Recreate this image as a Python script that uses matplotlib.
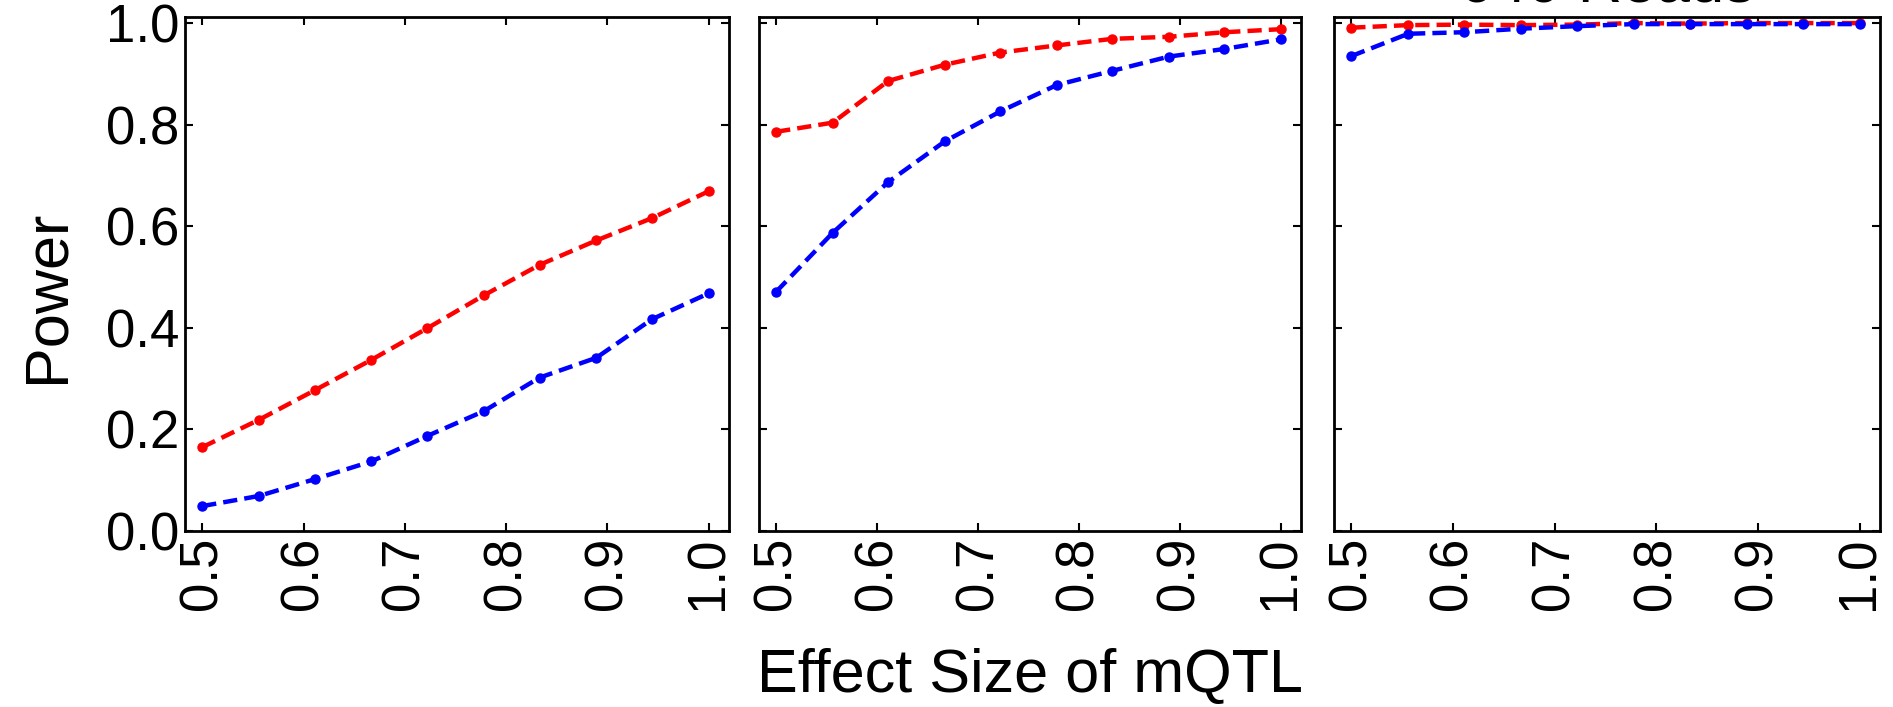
import matplotlib
matplotlib.use("Agg")
import matplotlib.pyplot as plt

plt.rcParams['font.family'] = ['Liberation Sans', 'DejaVu Sans']

effect_size = [0.5, 0.556, 0.611, 0.667, 0.722, 0.778, 0.833, 0.889, 0.944, 1.0]
titles = ["40 Reads", "160 Reads", "640 Reads"]

red_power = [
    [0.165, 0.219, 0.277, 0.337, 0.399, 0.464, 0.524, 0.572, 0.616, 0.669],
    [0.786, 0.804, 0.886, 0.918, 0.942, 0.956, 0.969, 0.973, 0.982, 0.988],
    [0.991, 0.996, 0.997, 0.996, 0.997, 1.0, 0.999, 1.0, 1.0, 1.0],
]
blue_power = [
    [0.049, 0.069, 0.102, 0.137, 0.187, 0.236, 0.302, 0.341, 0.417, 0.468],
    [0.471, 0.587, 0.687, 0.767, 0.826, 0.878, 0.906, 0.934, 0.949, 0.968],
    [0.935, 0.979, 0.982, 0.989, 0.994, 0.998, 0.998, 0.998, 0.998, 0.998],
]

xticks = [0.5, 0.6, 0.7, 0.8, 0.9, 1.0]
yticks = [0.0, 0.2, 0.4, 0.6, 0.8, 1.0]

W, H = 1893, 707
fig = plt.figure(figsize=(W / 100, H / 100), dpi=100)

# axes boxes in pixels: left, right
boxes = [(185, 729), (759, 1301), (1334, 1880)]
top, bottom = 17, 531
# titles sit mostly above the figure edge, as in the original crop
title_y = [-3, -3, 2]

for i, (l, r) in enumerate(boxes):
    ax = fig.add_axes([l / W, 1 - bottom / H, (r - l) / W, (bottom - top) / H])
    ax.plot(effect_size, red_power[i], color='red', ls='--', lw=3.2,
            marker='o', ms=6.5, dashes=(3.2, 1.6))
    ax.plot(effect_size, blue_power[i], color='blue', ls='--', lw=3.2,
            marker='o', ms=6.5, dashes=(3.2, 1.6))
    ax.set_xlim(0.483, 1.02)
    ax.set_ylim(0, 1.012)
    ax.set_xticks(xticks)
    ax.set_xticklabels([f"{t:.1f}" for t in xticks], rotation=90)
    ax.set_yticks(yticks)
    if i == 0:
        ax.set_yticklabels([f"{t:.1f}" for t in yticks])
    else:
        ax.set_yticklabels([])
    ax.tick_params(direction='in', length=6, width=1.5, top=True, right=True,
                   labelsize=38, pad=4)
    for s in ax.spines.values():
        s.set_linewidth(2)
    fig.text((l + r) / 2 / W, 1 - title_y[i] / H, titles[i], ha='center',
             va='baseline', fontsize=44)

fig.text(1030 / W, 1 - 676 / H, "Effect Size of mQTL", ha='center', va='center',
         fontsize=44)
fig.text(48 / W, 1 - 296 / H, "Power", ha='center', va='center', rotation=90,
         fontsize=44)

fig.savefig("out.png", dpi=100)
